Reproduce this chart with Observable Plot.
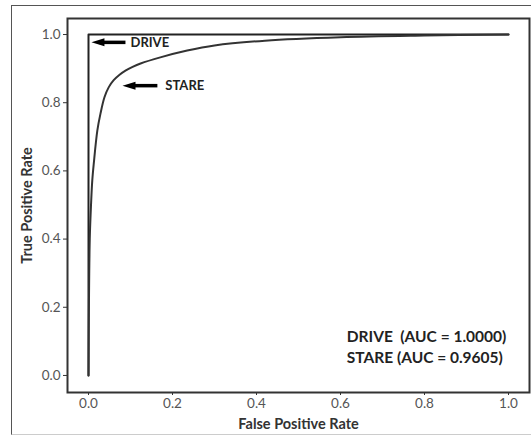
<!DOCTYPE html>
<html><head><meta charset="utf-8">
<script src="https://cdn.jsdelivr.net/npm/d3@7"></script>
<script src="https://cdn.jsdelivr.net/npm/@observablehq/plot@0.6"></script>
<style>
body{margin:0;background:#fff;}
#box{position:absolute;left:11px;top:5px;width:530px;height:428px;border-top:1.5px solid #555;border-left:1.5px solid #555;border-bottom:1.5px solid #ccc;}
#chart{position:absolute;left:0;top:0;}
</style></head><body>
<div id="box"></div>
<div id="chart"></div>
<script>
// DRIVE ROC curve
const driveFpr = [0, 0, 1];
const driveTpr = [0, 1, 1];
// STARE ROC curve
const stareFpr = [0, 0.001, 0.003, 0.006, 0.009, 0.0126, 0.021, 0.0285, 0.038, 0.048, 0.06, 0.074, 0.088, 0.105, 0.124, 0.171, 0.235, 0.3, 0.42, 0.6, 0.8, 1.0];
const stareTpr = [0, 0.2, 0.4, 0.5, 0.572, 0.622, 0.718, 0.768, 0.816, 0.845, 0.866, 0.882, 0.894, 0.905, 0.915, 0.933, 0.953, 0.968, 0.982, 0.992, 0.997, 1.0];
// arrow annotations (data units)
const arrowNames = ["DRIVE", "STARE"];
const arrowTailX = [0.088, 0.164];
const arrowShaftX = [0.025, 0.099];
const arrowHeadX = [0.007, 0.081];
const arrowY = [0.977, 0.85];
const arrowLabelX = [0.1, 0.183];
// AUC legend
const aucLines = ["DRIVE  (AUC = 1.0000)", "STARE (AUC = 0.9605)"];
const aucY = [0.114, 0.05];
const aucX = 0.615;
const ticks = [0, 0.2, 0.4, 0.6, 0.8, 1.0];

const drive = driveFpr.map((x, i) => ({x, y: driveTpr[i]}));
const stare = stareFpr.map((x, i) => ({x, y: stareTpr[i]}));
const arrows = arrowNames.map((n, i) => ({n, x1: arrowTailX[i], xs: arrowShaftX[i], xh: arrowHeadX[i], y: arrowY[i], lx: arrowLabelX[i]}));
const auc = aucLines.map((t, i) => ({t, y: aucY[i]}));

const arrowHead = {draw(ctx) { ctx.moveTo(0, 0); ctx.lineTo(13, -4); ctx.lineTo(13, 4); ctx.closePath(); }};

const font = "Lato, 'Open Sans', sans-serif";
const chart = Plot.plot({
  width: 531, height: 440,
  marginLeft: 67, marginTop: 18, marginRight: 2, marginBottom: 48,
  style: {fontFamily: font, background: "transparent"},
  x: {domain: [-0.05, 1.05]},
  y: {domain: [-0.05, 1.047]},
  marks: [
    Plot.frame({stroke: "#333", strokeWidth: 2}),
    Plot.axisX({ticks, tickFormat: ".1f", tickSize: 3, tickPadding: 3, fontSize: 13.5, color: "#555", stroke: "#333",
      label: "False Positive Rate", labelAnchor: "center", labelArrow: "none", labelOffset: 36}),
    Plot.axisY({ticks, tickFormat: ".1f", tickSize: 4, tickPadding: 3, fontSize: 13.5, color: "#555", stroke: "#333",
      label: "True Positive Rate", labelAnchor: "center", labelArrow: "none", labelOffset: 46}),
    Plot.line(drive, {x: "x", y: "y", stroke: "#222", strokeWidth: 2}),
    Plot.line(stare, {x: "x", y: "y", stroke: "#333", strokeWidth: 2, curve: "catmull-rom"}),
    Plot.link(arrows, {x1: "x1", x2: "xs", y1: "y", y2: "y", stroke: "#000", strokeWidth: 3.5}),
    Plot.dot(arrows, {x: "xh", y: "y", symbol: arrowHead, fill: "#000", stroke: "none"}),
    Plot.text(arrows, {x: "lx", y: "y", text: "n", textAnchor: "start", fontWeight: "bold", fontSize: 13, fill: "#222"}),
    Plot.text(auc, {x: aucX, y: "y", text: "t", textAnchor: "start", fontWeight: "bold", fontSize: 15.5, fill: "#222"})
  ]
});
chart.querySelectorAll('g[aria-label="x-axis label"] text, g[aria-label="y-axis label"] text').forEach(t => {
  t.setAttribute("font-weight", "bold"); t.style.fill = "#333"; t.setAttribute("font-size", "14.5");
});
document.getElementById("chart").append(chart);
</script>
</body></html>
